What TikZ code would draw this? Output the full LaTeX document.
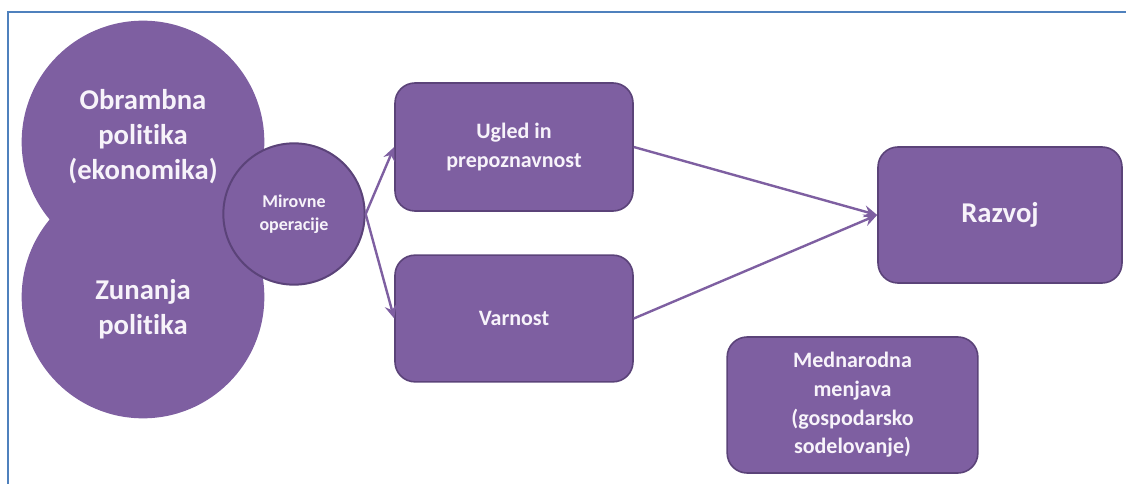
\documentclass[tikz,border=0pt]{standalone}
\usepackage{fontspec}
\setmainfont{Carlito}[Ligatures=NoCommon]
\usetikzlibrary{arrows.meta}
\definecolor{lila}{HTML}{7E5FA1}
\definecolor{lilarob}{HTML}{5B4379}
\definecolor{okvir}{HTML}{4F81BD}
\definecolor{napis}{HTML}{F7F3FA}
\tikzset{
  krog/.style={circle, fill=lila, text=napis, align=center, inner sep=0pt, font=\bfseries\fontsize{21.5}{26}\selectfont},
  velikinapis/.style={text=napis, align=center, font=\bfseries\fontsize{21.5}{26}\selectfont},
  skatla/.style={rectangle, rounded corners=15pt, fill=lila, draw=lilarob, line width=1.2pt, text=napis, align=center, font=\bfseries\fontsize{16.5}{21.5}\selectfont},
  puscica/.style={-{Stealth[length=10pt,width=9pt,inset=3.5pt]}, line width=1.8pt, draw=lila}
}
\begin{document}
\begin{tikzpicture}[x=0.75pt,y=0.75pt,yscale=-1,xscale=1]
\useasboundingbox (0,0) rectangle (1126,484);

%Frame
\draw [okvir, line width=2pt] (8,484) -- (8,12) -- (1126,12);

%Big circles
\node [krog, minimum size=182pt] (obramba) at (143,142) {};
\node [krog, minimum size=182pt] (zunanja) at (143,297) {};
\node [velikinapis] (obrambaNapis) at ([yshift=-4pt]obramba) {Obrambna\\politika\\(ekonomika)};
\node [velikinapis] (zunanjaNapis) at ([yshift=9pt]zunanja) {Zunanja\\politika};
%Small circle
\node [krog, minimum size=106pt, draw=lilarob, line width=1.5pt, font=\bfseries\fontsize{13.5}{17}\selectfont] (mirovne) at (294,214) {Mirovne\\operacije};

%Boxes
\node [skatla, minimum width=178.5pt, minimum height=96pt] (ugled) at (514,147) {Ugled in\\prepoznavnost};
\node [skatla, minimum width=178.5pt, minimum height=95pt] (varnost) at (514,318.5) {Varnost};
\node [skatla, minimum width=183pt, minimum height=102pt, font=\bfseries\fontsize{21.5}{26}\selectfont] (razvoj) at (1000,215) {Razvoj};
\node [skatla, minimum width=188pt, minimum height=102pt] (menjava) at (852.5,405) {Mednarodna\\menjava\\(gospodarsko\\sodelovanje)};

%Arrows
\draw [puscica] (mirovne.east) -- (ugled.west);
\draw [puscica] (mirovne.east) -- (varnost.west);
\draw [puscica] (ugled.east) -- (razvoj.west);
\draw [puscica] (varnost.east) -- (razvoj.west);

\end{tikzpicture}
\end{document}
